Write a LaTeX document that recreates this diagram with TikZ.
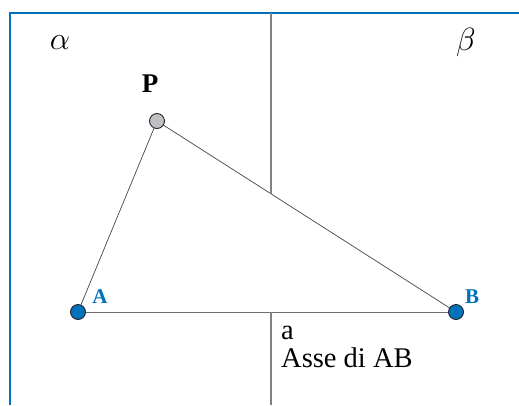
\documentclass[tikz,border=0pt]{standalone}
\usepackage{fontspec}
\setmainfont{Liberation Serif}
\usetikzlibrary{calc,intersections}
\begin{document}
\begin{tikzpicture}[x=1pt,y=-1pt,
  frame/.style={draw={rgb,255:red,0;green,114;blue,188},line width=2.6pt},
  axisline/.style={draw={rgb,255:red,128;green,128;blue,128},line width=1.6pt},
  side/.style={draw={rgb,255:red,70;green,70;blue,70},line width=0.7pt},
  base/.style={draw={rgb,255:red,110;green,110;blue,110},line width=1pt},
  bluept/.style={circle,draw={rgb,255:red,35;green,35;blue,40},line width=0.9pt,fill={rgb,255:red,0;green,114;blue,188},minimum size=15pt,inner sep=0pt},
  graypt/.style={circle,draw={rgb,255:red,35;green,35;blue,40},line width=0.9pt,fill={rgb,255:red,192;green,192;blue,196},minimum size=15pt,inner sep=0pt},
  bluelbl/.style={text={rgb,255:red,0;green,114;blue,188},font=\fontsize{21}{23}\selectfont\bfseries,inner sep=0pt},
  txt/.style={font=\fontsize{28.5}{30}\selectfont,inner sep=0pt,anchor=base west},
  greek/.style={font=\fontsize{20}{22}\selectfont,inner sep=0pt,scale=1.55}
]
\useasboundingbox (0,0) rectangle (519,405);
\fill[white] (0,0) rectangle (519,405);
% frame
\draw[frame] (10,405) -- (10,13) -- (519,13);
% points
\coordinate (Ac) at (78,312);
\coordinate (Bc) at (456,312);
\coordinate (Pc) at (157,121);
% axis
\coordinate (T) at (271,13);
\coordinate (M) at (271,312);
\coordinate (Bot) at (271,405);
\path[name path=pb] (Pc) -- (Bc);
\path[name path=ax] (T) -- (Bot);
\path[name intersections={of=pb and ax,by=X}];
\draw[base] (Ac) -- (Bc);
\draw[side] (Ac) -- (Pc);
\draw[side] (Pc) -- (Bc);
\draw[axisline] (T) -- (X);
\draw[axisline] (M) -- (Bot);
\node[bluept] (A) at (Ac) {};
\node[bluept] (B) at (Bc) {};
\node[graypt] (P) at (Pc) {};
% labels
\node[greek] (al) at (60,43) {$\alpha$};
\node[greek] (be) at (466,42) {$\beta$};
\node[font=\fontsize{27}{29}\selectfont\bfseries,inner sep=0pt] (Pl) at (150,84) {P};
\node[bluelbl] (Al) at (100,297) {A};
\node[bluelbl] (Bl) at (472,297) {B};
\node[txt] (a) at (281,339) {a};
\node[txt] (asse) at (281,367) {Asse di AB};
\end{tikzpicture}
\end{document}
